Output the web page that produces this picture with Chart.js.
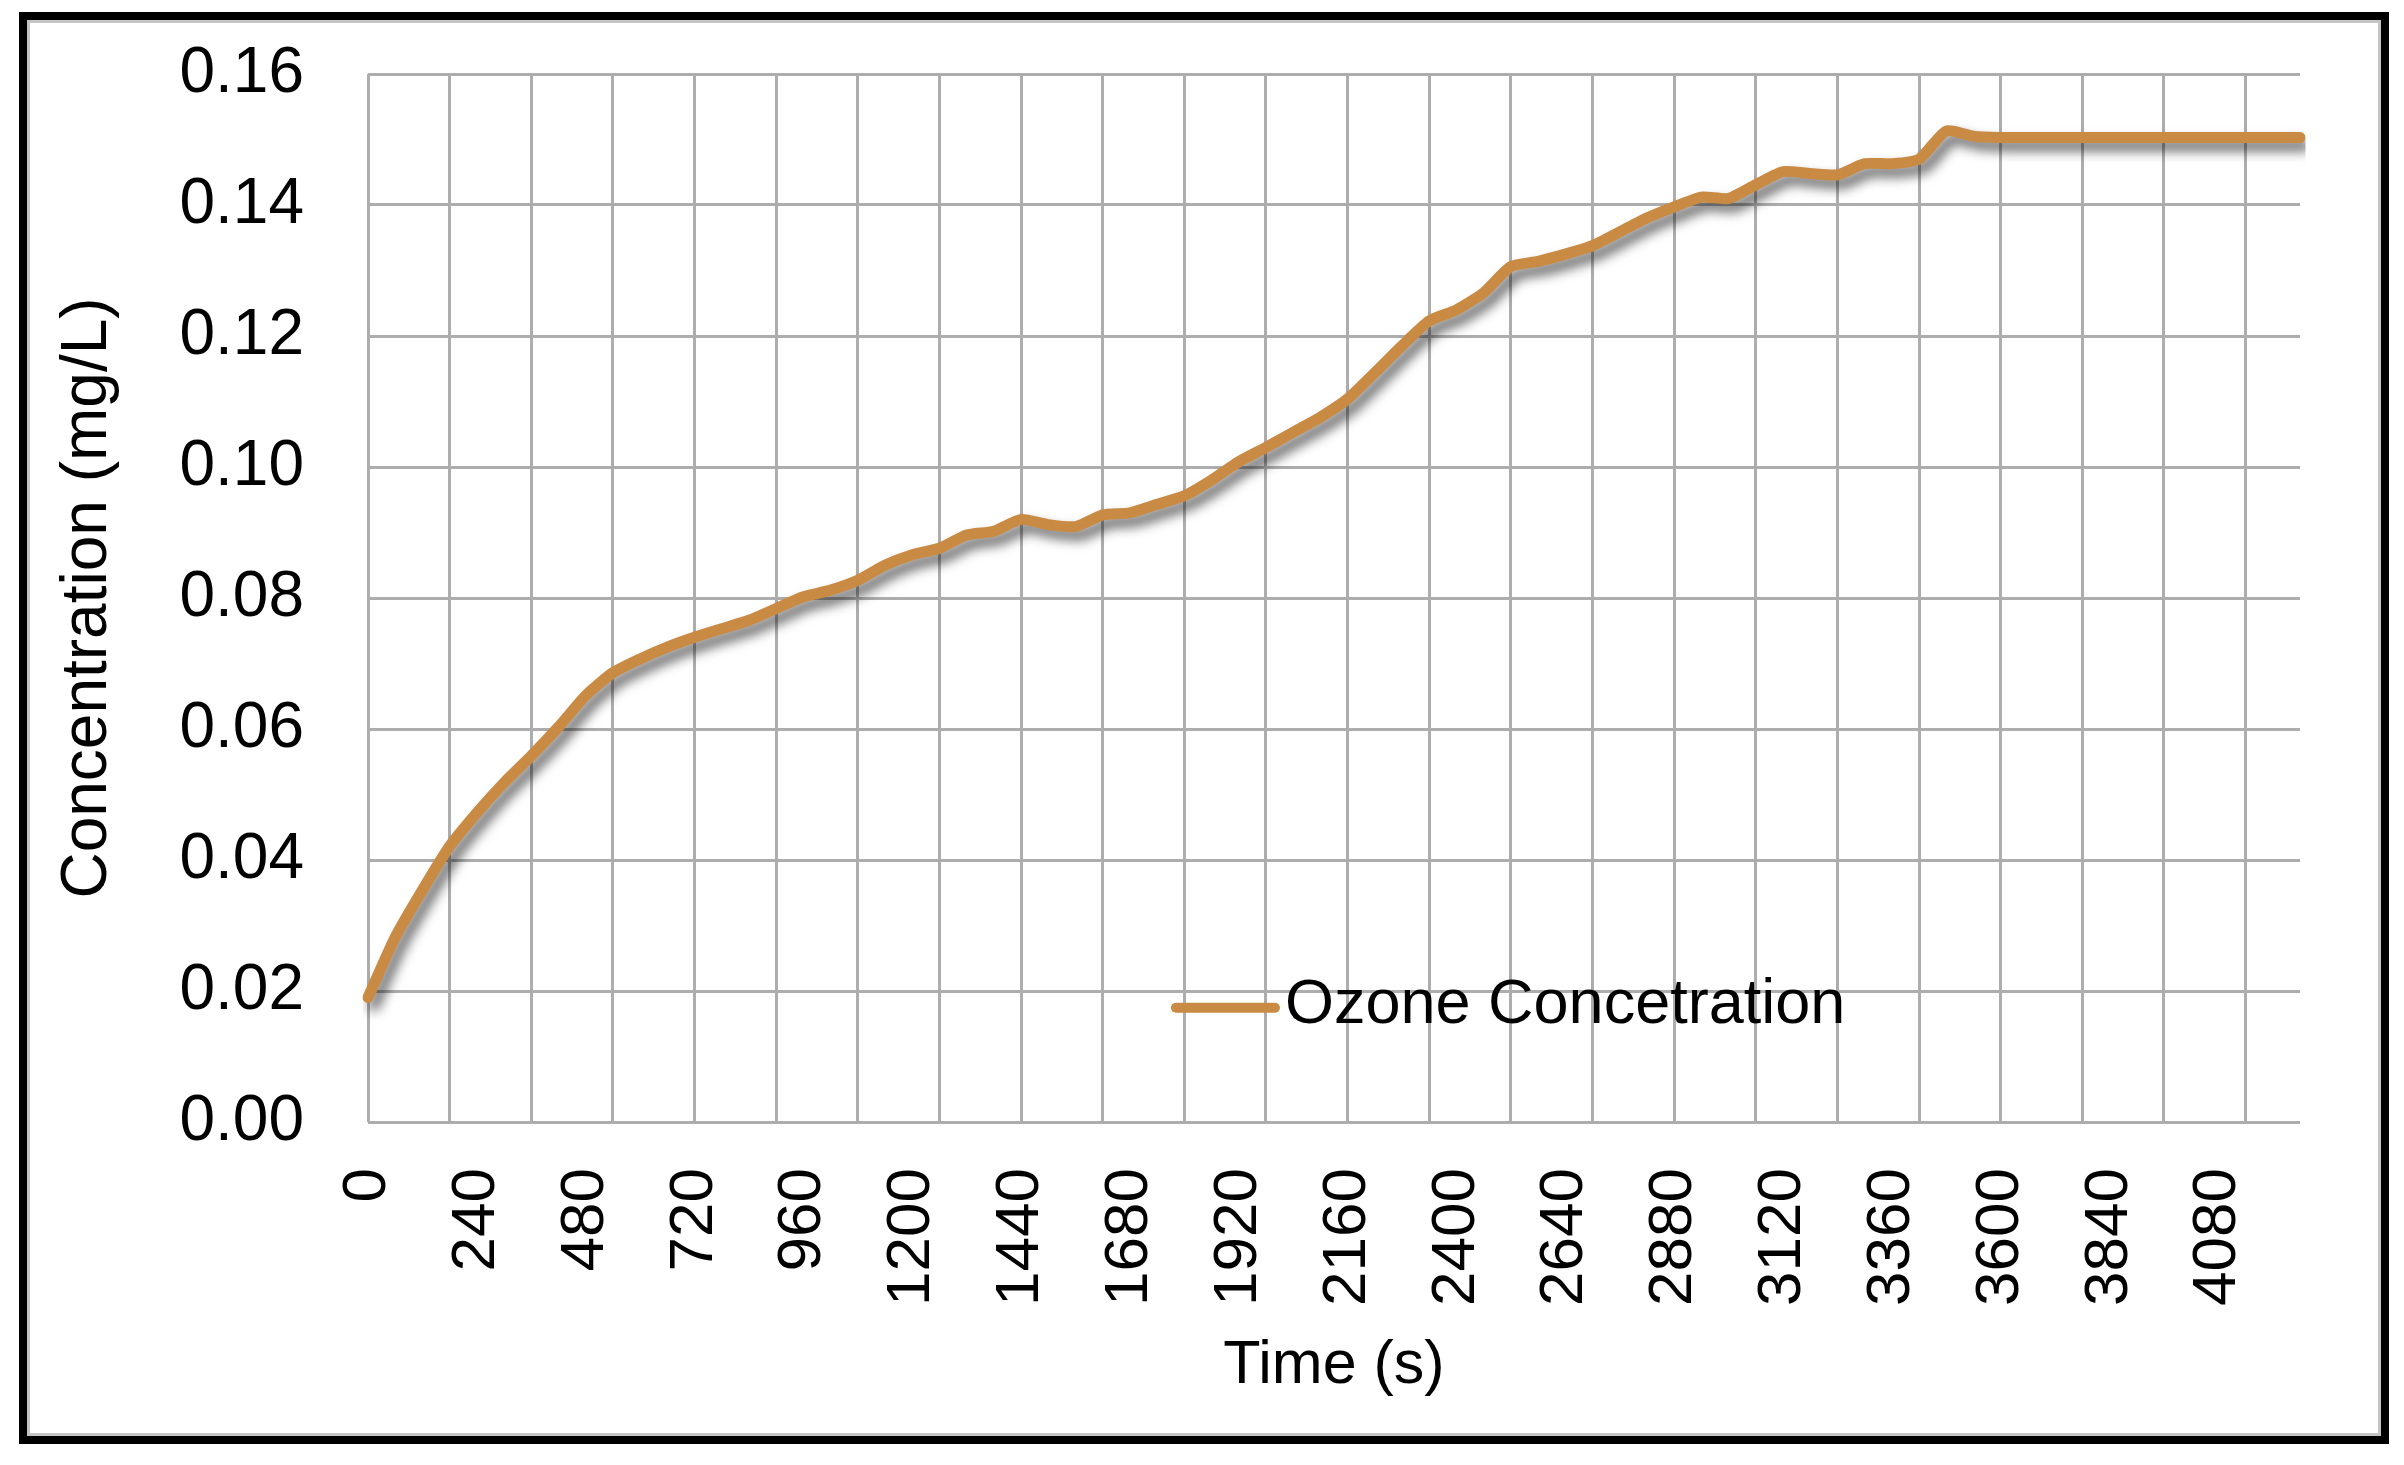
<!DOCTYPE html>
<html>
<head>
<meta charset="utf-8">
<title>Ozone Concentration</title>
<script src="https://cdn.jsdelivr.net/npm/chart.js@4.4.1/dist/chart.umd.min.js"></script>
<style>
  html, body { margin: 0; padding: 0; background: #fff; }
  body { width: 2404px; height: 1465px; position: relative; overflow: hidden; }
  .frame {
    position: absolute; left: 19px; top: 12px; width: 2370px; height: 1432px;
    box-sizing: border-box; border: 8px solid #000;
    box-shadow: inset 0 0 0 3px #c4c4c4;
  }
  #ozoneChart { position: absolute; left: 0; top: 0; }
</style>
</head>
<body>
<div class="frame"></div>
<canvas id="ozoneChart" width="2404" height="1465"></canvas>
<script>
// time axis (s), one reading every 60 s
const timeLabels = [
  0, 60, 120, 180, 240, 300, 360, 420, 480, 540, 600, 660, 720, 780, 840, 900,
  960, 1020, 1080, 1140, 1200, 1260, 1320, 1380, 1440, 1500, 1560, 1620, 1680, 1740, 1800, 1860,
  1920, 1980, 2040, 2100, 2160, 2220, 2280, 2340, 2400, 2460, 2520, 2580, 2640, 2700, 2760, 2820,
  2880, 2940, 3000, 3060, 3120, 3180, 3240, 3300, 3360, 3420, 3480, 3540, 3600, 3660, 3720, 3780,
  3840, 3900, 3960, 4020, 4080, 4140, 4200, 4260
];

// ozone concentration (mg/L)
const ozoneValues = [
  0.0190, 0.0282, 0.0354, 0.0421, 0.0472, 0.0518, 0.0559, 0.0603, 0.0651, 0.0686, 0.0707, 0.0725, 0.0740, 0.0753, 0.0766, 0.0784,
  0.0802, 0.0812, 0.0827, 0.0850, 0.0866, 0.0876, 0.0896, 0.0902, 0.0920, 0.0912, 0.0909, 0.0927, 0.0930, 0.0943, 0.0956, 0.0980,
  0.1008, 0.1030, 0.1053, 0.1076, 0.1104, 0.1144, 0.1185, 0.1223, 0.1240, 0.1266, 0.1306, 0.1314, 0.1325, 0.1338, 0.1359, 0.1380,
  0.1397, 0.1412, 0.1410, 0.1431, 0.1451, 0.1448, 0.1446, 0.1463, 0.1463, 0.1470, 0.1513, 0.1505, 0.1503, 0.1503, 0.1503, 0.1503,
  0.1503, 0.1503, 0.1503, 0.1503, 0.1503, 0.1503, 0.1503, 0.1503
];

const yTicks = [0, 0.02, 0.04, 0.06, 0.08, 0.10, 0.12, 0.14, 0.16];
const labelEvery = 4;   // a time label every 240 s
const gridEvery = 3;    // a vertical gridline every 180 s

const lineColor = '#c98b44';
const gridColor = '#adadad';
const fontFamily = "'Liberation Sans', Arial, sans-serif";

// Excel-style drop shadow under the series line
const lineShadow = {
  id: 'lineShadow',
  beforeDatasetDraw(chart) {
    const ctx = chart.ctx;
    ctx.save();
    ctx.shadowColor = 'rgba(0,0,0,0.6)';
    ctx.shadowBlur = 12;
    ctx.shadowOffsetX = 6;
    ctx.shadowOffsetY = 8;
  },
  afterDatasetDraw(chart) {
    chart.ctx.restore();
  }
};

// legend sits inside the plot area, lower middle
const insideLegend = {
  id: 'insideLegend',
  afterDraw(chart) {
    const { ctx, chartArea: a } = chart;
    const ds = chart.data.datasets[0];
    const x0 = a.left + a.width * 0.4156;
    const y0 = a.top + a.height * 0.891;
    ctx.save();
    ctx.strokeStyle = ds.borderColor;
    ctx.lineWidth = 10;
    ctx.lineCap = 'round';
    ctx.beginPath();
    ctx.moveTo(x0 + 5, y0);
    ctx.lineTo(x0 + 104, y0);
    ctx.stroke();
    ctx.fillStyle = '#000';
    ctx.font = '63px ' + fontFamily;
    ctx.textBaseline = 'middle';
    ctx.fillText(ds.label, x0 + 114, y0 - 2);
    ctx.restore();
  }
};

new Chart(document.getElementById('ozoneChart'), {
  type: 'line',
  data: {
    labels: timeLabels.map(String),
    datasets: [{
      label: 'Ozone Concetration',
      data: ozoneValues,
      borderColor: lineColor,
      backgroundColor: lineColor,
      borderWidth: 11,
      borderCapStyle: 'round',
      borderJoinStyle: 'round',
      pointRadius: 0,
      tension: 0.2,
      fill: false
    }]
  },
  options: {
    responsive: false,
    animation: false,
    devicePixelRatio: 1,
    layout: { padding: { left: 0, right: 104, top: 74, bottom: 0 } },
    plugins: {
      legend: { display: false },
      tooltip: { enabled: false }
    },
    scales: {
      x: {
        type: 'category',
        offset: false,
        afterFit: scale => {
          scale.height = 343;
          scale.paddingLeft = 0;
          scale.paddingRight = 0;
        },
        grid: {
          color: ctx => (ctx.index % gridEvery === 0 ? gridColor : 'rgba(0,0,0,0)'),
          lineWidth: 3,
          drawTicks: false
        },
        border: { display: false },
        ticks: {
          autoSkip: false,
          minRotation: 90,
          maxRotation: 90,
          padding: 46,
          color: '#000',
          font: { family: fontFamily, size: 62 },
          callback: function(val, i) {
            return i % labelEvery === 0 ? this.getLabelForValue(val) : '';
          }
        },
        title: {
          display: true,
          text: 'Time (s)',
          color: '#000',
          font: { family: fontFamily, size: 61 },
          padding: { top: 0, bottom: 62 }
        }
      },
      y: {
        min: yTicks[0],
        max: yTicks[yTicks.length - 1],
        afterFit: scale => {
          scale.width = 368;
          scale.paddingTop = 0;
          scale.paddingBottom = 0;
        },
        afterBuildTicks: scale => { scale.ticks = yTicks.map(v => ({ value: v })); },
        grid: { color: gridColor, lineWidth: 3, drawTicks: false },
        border: { display: false },
        ticks: {
          padding: 64,
          color: '#000',
          font: { family: fontFamily, size: 64 },
          callback: v => Number(v).toFixed(2)
        },
        title: {
          display: true,
          text: 'Concentration (mg/L)',
          color: '#000',
          font: { family: fontFamily, size: 64 },
          padding: { top: 50, bottom: 0 }
        }
      }
    }
  },
  plugins: [lineShadow, insideLegend]
});
</script>
</body>
</html>
